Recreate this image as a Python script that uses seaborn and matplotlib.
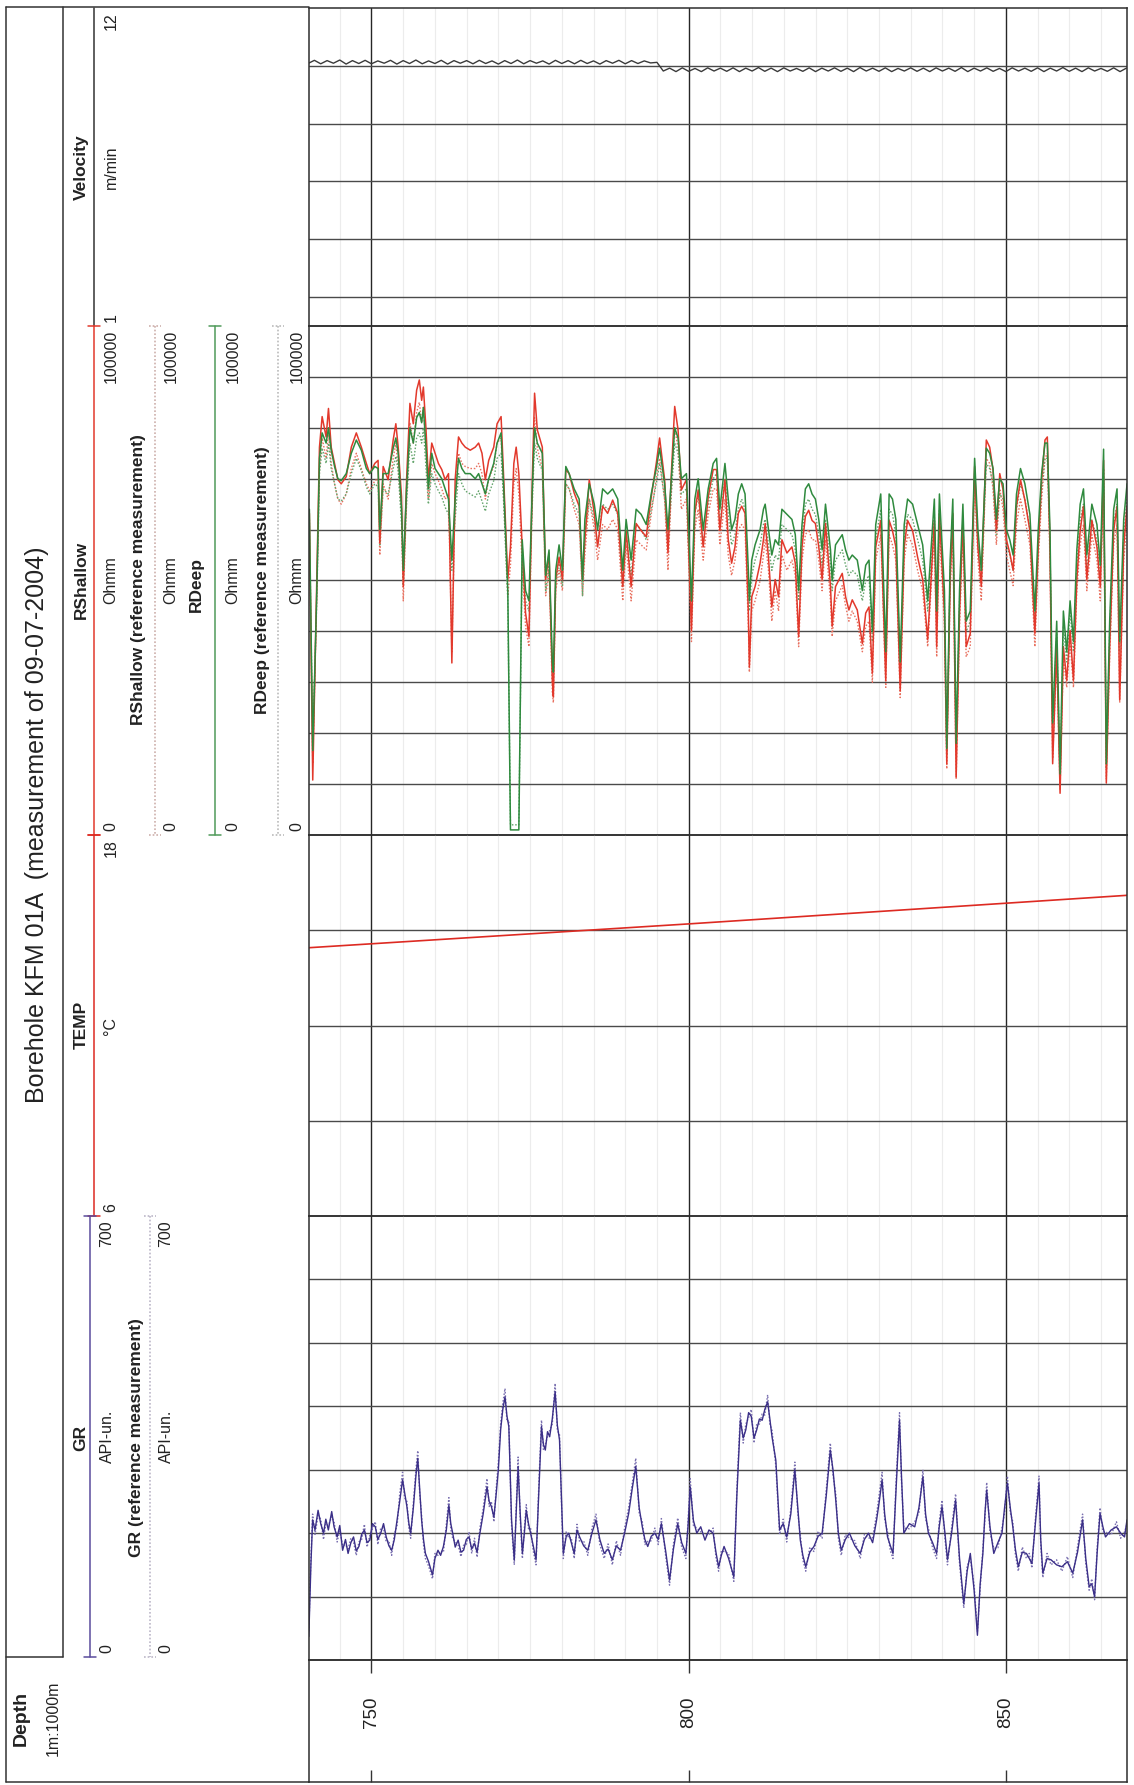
import numpy as np
import pandas as pd
import matplotlib
matplotlib.use("Agg")
import matplotlib.pyplot as plt
from matplotlib.ticker import FixedLocator, NullLocator
import seaborn as sns

# ---------------------------------------------------------------- data
TITLE = "Borehole KFM 01A  (measurement of 09-07-2004)"
DEPTH_LIMITS = (740.15, 869.1)          # m
DEPTH_LABELS = [750, 800, 850]

# Logging velocity (m/min), sampled every metre
vel_depth = np.arange(740, 870)
vel_mmin = [
    10.08, 10.19, 10.07, 10.18, 10.09, 10.20, 10.06, 10.18, 10.08, 10.19,
    10.07, 10.17, 10.09, 10.19, 10.06, 10.18, 10.08, 10.20, 10.07, 10.17,
    10.08, 10.19, 10.06, 10.18, 10.09, 10.18, 10.07, 10.19, 10.08, 10.17,
    10.06, 10.18, 10.08, 10.20, 10.07, 10.18, 10.09, 10.17, 10.06, 10.19,
    10.08, 10.18, 10.07, 10.19, 10.08, 10.17, 10.06, 10.18, 10.09, 10.19,
    10.07, 10.18, 10.08, 10.17, 10.10, 10.12,
    9.82, 9.92, 9.80, 9.93, 9.81, 9.91, 9.80, 9.93, 9.82, 9.92,
    9.81, 9.93, 9.80, 9.92, 9.82, 9.94, 9.81, 9.92, 9.80, 9.93,
    9.82, 9.91, 9.81, 9.93, 9.80, 9.92, 9.82, 9.93, 9.81, 9.92,
    9.80, 9.94, 9.82, 9.92, 9.81, 9.93, 9.80, 9.91, 9.82, 9.93,
    9.81, 9.92, 9.80, 9.93, 9.82, 9.92, 9.81, 9.94, 9.80, 9.92,
    9.82, 9.93, 9.81, 9.91, 9.80, 9.93, 9.82, 9.92, 9.81, 9.93,
    9.80, 9.92, 9.82, 9.94, 9.81, 9.92, 9.80, 9.93, 9.82, 9.91,
    9.81, 9.93, 9.80, 9.92,
]

# Resistivities, stored as log10(Ohmm)
res_depth = [
    740.21, 740.74, 741.38, 741.80, 742.22, 742.85, 743.22, 743.65, 744.18, 744.70,
    745.23, 746.02, 746.82, 747.61, 748.40, 749.19, 749.72, 750.52, 751.04, 751.31,
    751.84, 752.63, 753.42, 753.84, 754.21, 754.74, 755.01, 755.53, 756.06, 756.59,
    757.12, 757.54, 757.91, 758.18, 758.60, 758.97, 759.50, 760.02, 760.55, 761.08,
    761.61, 762.14, 762.67, 763.19, 763.72, 764.25, 764.78, 765.57, 766.36, 766.89,
    767.42, 767.95, 768.48, 769.27, 769.80, 770.43, 770.85, 771.49, 771.91, 772.44,
    772.81, 773.23, 773.76, 774.29, 774.82, 775.35, 775.71, 776.14, 776.93, 777.46,
    777.99, 778.51, 778.67, 779.04, 779.57, 780.10, 780.63, 781.16, 781.95, 782.74,
    783.27, 783.64, 784.33, 785.12, 785.65, 786.44, 787.23, 788.02, 788.82, 789.61,
    790.14, 790.93, 791.72, 792.51, 793.31, 794.10, 794.89, 795.42, 796.21, 796.74,
    797.27, 797.80, 798.33, 798.85, 799.65, 800.44, 800.97, 801.50, 802.29, 803.08,
    803.87, 804.40, 804.92, 805.72, 806.24, 806.77, 807.30, 807.83, 808.36, 808.89,
    809.41, 809.57, 809.94, 810.47, 811.26, 811.79, 812.06, 812.58, 813.11, 813.64,
    814.17, 814.70, 815.49, 816.28, 816.81, 817.34, 817.87, 818.40, 818.92, 819.45,
    819.98, 820.51, 821.04, 821.57, 822.36, 822.62, 823.15, 824.21, 824.74, 825.26,
    825.79, 826.58, 827.38, 827.91, 828.43, 828.96, 829.49, 830.28, 831.07, 831.60,
    832.13, 832.66, 833.35, 833.98, 834.51, 835.30, 836.09, 836.89, 837.68, 838.21,
    838.73, 839.10, 839.53, 840.32, 840.69, 841.22, 841.64, 842.17, 842.70, 843.23,
    843.75, 844.39, 845.08, 845.60, 846.13, 846.92, 847.45, 847.98, 848.51, 849.04,
    849.56, 850.09, 850.62, 851.15, 851.68, 852.31, 853.00, 853.79, 854.58, 855.11,
    855.64, 856.17, 856.54, 856.96, 857.38, 858.02, 858.55, 859.07, 859.60, 860.13,
    860.66, 861.19, 861.72, 862.24, 862.77, 863.56, 864.36, 864.89, 865.41, 865.84,
    866.37, 867.00, 867.53, 867.95, 868.58, 869.11,
]
rshallow_log = [
    3.16, 0.54, 2.51, 3.81, 4.11, 3.91, 4.19, 3.81, 3.65, 3.49,
    3.45, 3.52, 3.81, 3.95, 3.81, 3.65, 3.55, 3.65, 3.68, 2.87,
    3.62, 3.49, 3.88, 4.04, 3.81, 3.32, 2.44, 3.49, 4.24, 4.04,
    4.37, 4.47, 4.27, 4.40, 3.98, 3.49, 3.85, 3.75, 3.65, 3.59,
    3.49, 3.55, 1.69, 3.49, 3.91, 3.85, 3.81, 3.78, 3.81, 3.85,
    3.75, 3.49, 3.68, 3.81, 4.04, 4.11, 3.49, 2.51, 2.83, 3.65,
    3.81, 3.55, 2.83, 2.18, 1.95, 3.49, 4.34, 3.98, 3.81, 2.51,
    2.77, 1.52, 1.36, 2.51, 2.73, 2.51, 3.59, 3.55, 3.36, 3.23,
    2.51, 2.90, 3.49, 3.16, 2.83, 3.23, 3.16, 3.29, 3.16, 2.44,
    2.99, 2.44, 3.06, 2.99, 2.93, 3.32, 3.65, 3.90, 3.49, 2.77,
    3.55, 4.21, 3.98, 3.39, 3.49, 2.01, 3.16, 3.39, 2.83, 3.32,
    3.59, 3.59, 2.99, 3.49, 2.90, 2.67, 2.83, 3.16, 3.23, 3.16,
    2.18, 1.65, 2.34, 2.44, 2.67, 2.90, 3.06, 2.73, 2.24, 2.51,
    2.34, 2.90, 2.77, 2.83, 2.67, 1.95, 2.83, 3.13, 3.19, 3.09,
    3.06, 2.83, 2.51, 3.06, 2.44, 2.05, 2.44, 2.57, 2.34, 2.21,
    2.31, 2.21, 1.88, 2.18, 2.24, 1.59, 2.83, 3.09, 1.52, 3.09,
    2.99, 2.83, 1.42, 2.83, 3.09, 2.99, 2.73, 2.51, 1.92, 2.51,
    3.09, 1.85, 3.16, 2.18, 0.70, 2.51, 3.16, 0.57, 2.18, 3.09,
    1.85, 1.98, 3.62, 2.83, 2.44, 3.88, 3.81, 3.59, 2.99, 3.55,
    3.39, 2.90, 2.77, 2.60, 3.23, 3.49, 3.29, 2.99, 1.98, 2.83,
    3.49, 3.88, 3.91, 2.83, 0.70, 1.85, 0.41, 1.85, 1.52, 2.01,
    1.52, 2.51, 2.99, 3.23, 2.51, 3.09, 2.83, 2.44, 3.68, 0.51,
    1.85, 2.99, 3.23, 1.33, 2.83, 3.23,
]
rshallow_ref_log = [
    3.05, 0.70, 2.35, 3.60, 3.90, 3.70, 3.95, 3.65, 3.45, 3.30,
    3.25, 3.35, 3.60, 3.75, 3.60, 3.45, 3.38, 3.48, 3.50, 2.75,
    3.45, 3.30, 3.70, 3.85, 3.60, 3.15, 2.30, 3.30, 4.05, 3.85,
    4.15, 4.25, 4.05, 4.20, 3.80, 3.30, 3.65, 3.55, 3.48, 3.40,
    3.30, 3.35, 1.80, 3.30, 3.75, 3.65, 3.62, 3.60, 3.60, 3.65,
    3.55, 3.30, 3.50, 3.62, 3.85, 3.90, 3.30, 2.35, 2.65, 3.45,
    3.60, 3.35, 2.65, 2.05, 1.85, 3.30, 4.10, 3.80, 3.60, 2.35,
    2.60, 1.40, 1.30, 2.40, 2.60, 2.40, 3.45, 3.40, 3.20, 3.05,
    2.35, 2.75, 3.30, 3.00, 2.70, 3.05, 3.00, 3.10, 3.00, 2.30,
    2.85, 2.30, 2.90, 2.85, 2.80, 3.15, 3.50, 3.70, 3.30, 2.60,
    3.40, 4.00, 3.80, 3.20, 3.30, 1.90, 3.00, 3.20, 2.70, 3.15,
    3.40, 3.40, 2.85, 3.30, 2.75, 2.55, 2.70, 3.00, 3.05, 3.00,
    2.05, 1.60, 2.20, 2.30, 2.50, 2.75, 2.90, 2.60, 2.10, 2.40,
    2.20, 2.75, 2.60, 2.70, 2.55, 1.85, 2.70, 2.95, 3.00, 2.90,
    2.90, 2.70, 2.40, 2.90, 2.30, 1.95, 2.30, 2.45, 2.25, 2.10,
    2.20, 2.10, 1.80, 2.05, 2.10, 1.50, 2.70, 2.95, 1.45, 2.95,
    2.85, 2.70, 1.35, 2.70, 2.95, 2.85, 2.60, 2.40, 1.85, 2.40,
    2.95, 1.75, 3.00, 2.05, 0.65, 2.40, 3.00, 0.55, 2.05, 2.95,
    1.75, 1.85, 3.45, 2.70, 2.30, 3.70, 3.65, 3.40, 2.85, 3.40,
    3.20, 2.75, 2.60, 2.45, 3.05, 3.30, 3.10, 2.85, 1.85, 2.70,
    3.30, 3.70, 3.75, 2.70, 0.75, 1.75, 0.45, 1.75, 1.45, 1.90,
    1.45, 2.40, 2.85, 3.05, 2.40, 2.95, 2.70, 2.30, 3.50, 0.55,
    1.75, 2.85, 3.05, 1.30, 2.70, 3.05,
]
rdeep_log = [
    3.20, 0.83, 2.40, 3.70, 3.95, 3.85, 4.00, 3.78, 3.62, 3.50,
    3.48, 3.55, 3.75, 3.88, 3.78, 3.60, 3.55, 3.62, 3.60, 3.00,
    3.55, 3.55, 3.80, 3.90, 3.75, 3.20, 2.60, 3.40, 4.00, 3.85,
    4.10, 4.15, 4.05, 4.20, 3.80, 3.40, 3.75, 3.60, 3.55, 3.50,
    3.40, 3.30, 2.70, 3.30, 3.70, 3.60, 3.55, 3.55, 3.50, 3.55,
    3.45, 3.35, 3.50, 3.65, 3.85, 3.95, 3.40, 2.40, 0.05, 0.05,
    0.05, 0.05, 2.90, 2.40, 2.30, 3.40, 4.00, 3.85, 3.75, 2.55,
    2.80, 1.70, 1.60, 2.60, 2.85, 2.60, 3.62, 3.55, 3.40, 3.30,
    2.50, 3.10, 3.45, 3.25, 3.00, 3.40, 3.35, 3.40, 3.30, 2.60,
    3.10, 2.70, 3.20, 3.15, 3.05, 3.35, 3.60, 3.80, 3.45, 3.00,
    3.50, 4.00, 3.90, 3.50, 3.55, 2.30, 3.30, 3.50, 3.00, 3.40,
    3.65, 3.70, 3.20, 3.65, 3.30, 3.00, 3.10, 3.35, 3.45, 3.35,
    2.60, 2.30, 2.70, 2.85, 3.00, 3.20, 3.25, 3.00, 2.75, 2.90,
    2.85, 3.20, 3.15, 3.10, 2.95, 2.40, 3.05, 3.40, 3.45, 3.35,
    3.30, 3.10, 2.80, 3.25, 2.80, 2.50, 2.85, 2.95, 2.80, 2.70,
    2.75, 2.70, 2.40, 2.65, 2.70, 2.00, 3.05, 3.35, 1.80, 3.35,
    3.30, 3.10, 1.70, 3.05, 3.30, 3.25, 3.05, 2.85, 2.30, 2.80,
    3.30, 2.20, 3.35, 2.40, 0.85, 2.70, 3.30, 0.90, 2.40, 3.25,
    2.10, 2.20, 3.70, 3.00, 2.60, 3.80, 3.75, 3.60, 3.10, 3.50,
    3.45, 3.00, 2.90, 2.75, 3.35, 3.60, 3.45, 3.15, 2.20, 3.00,
    3.55, 3.85, 3.85, 3.00, 1.10, 2.10, 0.60, 2.20, 1.80, 2.30,
    1.90, 2.80, 3.25, 3.40, 2.75, 3.25, 3.05, 2.65, 3.79, 0.70,
    2.10, 3.20, 3.40, 1.90, 3.10, 3.45,
]
rdeep_ref_log = [
    3.10, 0.90, 2.30, 3.55, 3.80, 3.65, 3.85, 3.60, 3.45, 3.30,
    3.28, 3.35, 3.55, 3.70, 3.58, 3.42, 3.35, 3.45, 3.42, 2.85,
    3.40, 3.35, 3.60, 3.72, 3.58, 3.05, 2.45, 3.25, 3.85, 3.65,
    3.90, 3.95, 3.85, 4.00, 3.60, 3.25, 3.55, 3.45, 3.38, 3.32,
    3.22, 3.15, 2.60, 3.10, 3.55, 3.45, 3.38, 3.35, 3.32, 3.38,
    3.28, 3.18, 3.35, 3.48, 3.70, 3.75, 3.25, 2.30, 0.10, 0.10,
    0.10, 0.10, 2.75, 2.30, 2.20, 3.25, 3.85, 3.70, 3.58, 2.40,
    2.65, 1.60, 1.50, 2.45, 2.70, 2.45, 3.45, 3.40, 3.25, 3.15,
    2.35, 2.95, 3.30, 3.10, 2.85, 3.25, 3.20, 3.25, 3.15, 2.45,
    2.95, 2.55, 3.05, 3.00, 2.90, 3.20, 3.45, 3.65, 3.30, 2.85,
    3.35, 3.85, 3.75, 3.35, 3.40, 2.15, 3.15, 3.35, 2.85, 3.25,
    3.50, 3.55, 3.05, 3.50, 3.15, 2.85, 2.95, 3.20, 3.30, 3.20,
    2.45, 2.20, 2.55, 2.70, 2.85, 3.05, 3.10, 2.85, 2.60, 2.75,
    2.70, 3.05, 3.00, 2.95, 2.80, 2.30, 2.90, 3.25, 3.30, 3.20,
    3.15, 2.95, 2.65, 3.10, 2.65, 2.40, 2.70, 2.80, 2.65, 2.55,
    2.60, 2.55, 2.30, 2.50, 2.55, 1.90, 2.90, 3.20, 1.70, 3.20,
    3.15, 2.95, 1.60, 2.90, 3.15, 3.10, 2.90, 2.70, 2.20, 2.65,
    3.15, 2.10, 3.20, 2.30, 0.80, 2.60, 3.15, 0.85, 2.30, 3.10,
    2.00, 2.10, 3.55, 2.85, 2.50, 3.65, 3.60, 3.45, 2.95, 3.35,
    3.30, 2.85, 2.75, 2.60, 3.20, 3.45, 3.30, 3.00, 2.10, 2.85,
    3.40, 3.70, 3.70, 2.85, 1.00, 2.00, 0.55, 2.05, 1.70, 2.20,
    1.80, 2.65, 3.10, 3.25, 2.60, 3.10, 2.90, 2.50, 3.60, 0.65,
    2.00, 3.05, 3.25, 1.80, 2.95, 3.30,
]

# Fluid temperature (deg C)
temp_depth = [740.15, 800.0, 869.1]
temp_degc = [14.45, 15.20, 16.10]

# Natural gamma (API units)
gr_depth = [
    740.12, 740.45, 740.72, 741.10, 741.58, 742.00, 742.44, 742.80, 743.20, 743.73,
    744.10, 744.59, 745.00, 745.45, 745.90, 746.31, 746.75, 747.17, 747.60, 748.02,
    748.45, 748.88, 749.30, 749.74, 750.15, 750.60, 751.00, 751.46, 751.90, 752.32,
    752.75, 753.18, 753.60, 754.04, 754.45, 754.90, 755.20, 755.58, 755.90, 756.18,
    756.60, 757.00, 757.30, 757.60, 757.90, 758.20, 758.50, 759.00, 759.62, 760.00,
    760.48, 760.90, 761.34, 761.80, 762.20, 762.50, 762.80, 763.20, 763.66, 764.10,
    764.52, 764.95, 765.38, 765.80, 766.24, 766.65, 767.09, 767.60, 768.21, 768.55,
    768.90, 769.30, 769.67, 770.00, 770.36, 770.70, 771.05, 771.35, 771.65, 772.08,
    772.51, 772.80, 773.11, 773.45, 773.79, 774.10, 774.40, 774.75, 775.08, 775.50,
    775.94, 776.40, 776.80, 777.10, 777.40, 777.75, 778.09, 778.50, 778.95, 779.30,
    779.64, 780.00, 780.24, 780.70, 781.10, 781.50, 781.96, 782.40, 782.81, 783.45,
    784.10, 784.75, 785.39, 786.00, 786.68, 787.30, 787.97, 788.60, 789.26, 789.90,
    790.54, 791.10, 791.66, 792.20, 792.69, 793.10, 793.55, 794.10, 794.67, 795.20,
    795.70, 796.40, 796.99, 797.60, 798.28, 798.90, 799.56, 799.90, 800.25, 800.75,
    801.28, 801.90, 802.57, 803.20, 803.86, 804.30, 804.72, 805.15, 805.58, 806.30,
    807.12, 807.60, 808.15, 808.60, 809.01, 809.45, 809.87, 810.30, 810.73, 811.15,
    811.59, 812.00, 812.45, 812.80, 813.14, 813.74, 814.34, 814.90, 815.46, 816.10,
    816.74, 817.20, 817.60, 818.00, 818.46, 819.10, 819.75, 820.40, 821.04, 821.70,
    822.33, 822.75, 823.19, 823.60, 824.05, 824.70, 825.34, 826.20, 827.05, 827.70,
    828.34, 829.00, 829.63, 830.05, 830.49, 830.90, 831.35, 831.80, 832.21, 832.70,
    833.24, 833.55, 833.92, 834.80, 835.64, 836.30, 836.93, 837.35, 837.79, 838.45,
    839.08, 839.50, 839.94, 840.40, 840.80, 841.45, 842.08, 842.70, 843.37, 843.90,
    844.40, 845.00, 845.52, 845.95, 846.38, 846.70, 846.98, 847.50, 848.10, 848.75,
    849.39, 849.80, 850.25, 850.70, 851.10, 851.50, 851.96, 852.60, 853.25, 853.70,
    854.11, 854.70, 855.23, 855.50, 855.83, 856.50, 857.12, 858.00, 858.84, 859.70,
    860.55, 861.30, 862.10, 862.60, 863.13, 863.55, 863.99, 864.40, 864.85, 865.30,
    865.71, 866.60, 867.43, 868.10, 868.71, 869.10,
]
gr_api = [
    37, 150, 221, 205, 236, 215, 200, 222, 205, 234,
    210, 194, 212, 173, 190, 168, 185, 194, 172, 179,
    198, 205, 185, 189, 215, 210, 190, 200, 215, 194,
    180, 173, 190, 221, 250, 284, 265, 242, 215, 200,
    240, 290, 318, 270, 221, 190, 168, 155, 134, 160,
    173, 165, 179, 205, 244, 215, 200, 178, 189, 170,
    173, 190, 194, 175, 184, 170, 200, 230, 273, 250,
    242, 225, 263, 300, 363, 395, 415, 385, 368, 221,
    158, 230, 305, 230, 168, 200, 236, 215, 200, 180,
    158, 270, 368, 340, 331, 360, 352, 380, 423, 370,
    347, 240, 168, 195, 200, 185, 168, 205, 194, 180,
    173, 200, 221, 190, 168, 175, 158, 180, 173, 200,
    231, 270, 305, 240, 210, 190, 179, 195, 200, 190,
    215, 170, 126, 175, 215, 185, 168, 210, 273, 220,
    200, 210, 189, 205, 200, 170, 147, 165, 179, 160,
    131, 260, 378, 350, 363, 390, 384, 350, 363, 380,
    378, 395, 407, 380, 352, 315, 205, 215, 194, 230,
    300, 240, 189, 165, 147, 170, 179, 195, 200, 260,
    331, 300, 252, 200, 173, 190, 200, 180, 168, 190,
    200, 185, 221, 250, 284, 230, 194, 180, 168, 270,
    378, 290, 200, 215, 210, 240, 289, 230, 200, 185,
    168, 210, 242, 200, 158, 200, 252, 160, 89, 140,
    168, 110, 39, 120, 168, 230, 268, 210, 168, 185,
    200, 240, 279, 240, 210, 175, 147, 170, 168, 160,
    152, 220, 279, 190, 137, 160, 158, 150, 147, 155,
    137, 170, 221, 160, 116, 120, 100, 170, 231, 210,
    194, 205, 210, 200, 194, 221,
]
gr_ref_api = [
    45, 160, 230, 198, 228, 222, 190, 215, 212, 226,
    218, 186, 205, 180, 182, 175, 192, 186, 165, 186,
    190, 214, 178, 196, 207, 218, 182, 208, 208, 186,
    188, 165, 198, 212, 262, 296, 256, 250, 208, 192,
    248, 300, 330, 262, 228, 182, 160, 148, 128, 168,
    165, 172, 170, 214, 256, 206, 192, 186, 181, 163,
    181, 182, 202, 168, 192, 162, 208, 238, 286, 242,
    250, 218, 272, 312, 372, 405, 428, 376, 378, 212,
    150, 238, 320, 222, 160, 208, 245, 207, 208, 172,
    150, 282, 378, 332, 340, 352, 362, 372, 436, 362,
    355, 232, 160, 203, 192, 193, 160, 214, 186, 188,
    165, 208, 230, 182, 160, 183, 150, 188, 165, 208,
    240, 278, 318, 232, 218, 182, 187, 188, 208, 182,
    223, 162, 118, 183, 224, 178, 160, 218, 286, 212,
    208, 202, 197, 198, 208, 162, 140, 172, 171, 168,
    124, 270, 390, 342, 372, 382, 395, 342, 372, 372,
    388, 386, 418, 372, 362, 306, 198, 222, 186, 238,
    312, 232, 197, 158, 140, 178, 171, 203, 192, 270,
    342, 292, 262, 192, 165, 198, 192, 188, 160, 198,
    192, 193, 230, 262, 296, 222, 202, 172, 160, 282,
    390, 282, 208, 207, 218, 232, 300, 222, 208, 177,
    160, 218, 252, 192, 150, 208, 262, 152, 82, 148,
    160, 118, 45, 112, 176, 222, 280, 202, 176, 177,
    208, 232, 290, 232, 218, 167, 140, 178, 160, 168,
    145, 228, 290, 182, 130, 168, 150, 158, 140, 163,
    130, 178, 230, 152, 110, 128, 95, 178, 240, 202,
    202, 197, 218, 192, 202, 214,
]

# ---------------------------------------------------------------- style
sns.set_theme(style="white")
plt.rcParams["font.family"] = ["Liberation Sans", "DejaVu Sans"]
plt.rcParams["axes.unicode_minus"] = False

RED = "#e2392c"
RED_REF = "#e8705f"
GREEN = "#2f8a3e"
GREEN_REF = "#63a46b"
PURPLE = "#3b2f88"
PURPLE_REF = "#7a70b0"
TEMP_RED = "#dd2a22"
INK = "#222222"
GRID = "#4a4a4a"
MINOR = "#ececec"
DOT = (0, (1.1, 1.3))

W, H = 1134, 1785
fig = plt.figure(figsize=(W / 100, H / 100), dpi=100)


def px_axes(x0, y0, x1, y1, **kw):
    """Axes placed by a pixel box measured from the top-left corner."""
    return fig.add_axes([x0 / W, 1 - y1 / H, (x1 - x0) / W, (y1 - y0) / H], **kw)


# header canvas in pixel units (y grows downwards)
bg = px_axes(0, 0, W, H, zorder=0)
bg.set_xlim(0, W)
bg.set_ylim(H, 0)
bg.axis("off")

PL, PR = 309, 1127
VEL_Y, RES_Y, TMP_Y, GR_Y = (8, 326), (326, 835), (835, 1216), (1216, 1660)
DEP_Y = (1660, 1782)

depth_minor = [d for d in range(745, 870, 5) if d not in DEPTH_LABELS]


def track(ybox, ylim, grid_vals, log=False):
    ax = px_axes(PL, ybox[0], PR, ybox[1], zorder=2)
    ax.set_facecolor("none")
    if log:
        ax.set_yscale("log")
    ax.set_xlim(*DEPTH_LIMITS)
    ax.set_ylim(*ylim)
    ax.yaxis.set_major_locator(FixedLocator(grid_vals))
    ax.yaxis.set_minor_locator(NullLocator())
    ax.xaxis.set_major_locator(FixedLocator(DEPTH_LABELS))
    ax.xaxis.set_minor_locator(FixedLocator(depth_minor))
    ax.grid(True, which="major", axis="y", color=GRID, lw=1.0)
    ax.grid(True, which="major", axis="x", color="#262626", lw=1.0)
    ax.grid(True, which="minor", axis="x", color=MINOR, lw=0.8)
    ax.set_axisbelow(True)
    ax.tick_params(which="both", length=0, labelbottom=False, labelleft=False)
    for s in ax.spines.values():
        s.set_color("#2e2e2e")
        s.set_linewidth(1.1)
    return ax


def finish(ax):
    ax.set_xlabel("")
    ax.set_ylabel("")
    ax.set_xlim(*DEPTH_LIMITS)


# --- velocity track
ax_v = track(VEL_Y, (1, 12), [2, 4, 6, 8, 10])
sns.lineplot(x=vel_depth, y=vel_mmin, ax=ax_v, color="#3a3a3a", lw=1.0,
             estimator=None, sort=False)
finish(ax_v)

# --- resistivity track
res_df = pd.DataFrame({
    "depth": res_depth,
    "RShallow": 10 ** np.array(rshallow_log),
    "RShallow_ref": 10 ** np.array(rshallow_ref_log),
    "RDeep": 10 ** np.array(rdeep_log),
    "RDeep_ref": 10 ** np.array(rdeep_ref_log),
})
ax_r = track(RES_Y, (1, 1e5), [10 ** (k / 2) for k in range(1, 10)], log=True)
sns.lineplot(data=res_df, x="depth", y="RShallow_ref", ax=ax_r, color=RED_REF,
             lw=1.0, linestyle=DOT, estimator=None, sort=False)
sns.lineplot(data=res_df, x="depth", y="RDeep_ref", ax=ax_r, color=GREEN_REF,
             lw=1.0, linestyle=DOT, estimator=None, sort=False)
sns.lineplot(data=res_df, x="depth", y="RShallow", ax=ax_r, color=RED,
             lw=1.1, estimator=None, sort=False)
sns.lineplot(data=res_df, x="depth", y="RDeep", ax=ax_r, color=GREEN,
             lw=1.1, estimator=None, sort=False)
finish(ax_r)

# --- temperature track
ax_t = track(TMP_Y, (6, 18), [9, 12, 15])
sns.lineplot(x=temp_depth, y=temp_degc, ax=ax_t, color=TEMP_RED, lw=1.2,
             estimator=None, sort=False)
finish(ax_t)

# --- gamma track
ax_g = track(GR_Y, (0, 700), [100, 200, 300, 400, 500, 600])
sns.lineplot(x=gr_depth, y=gr_ref_api, ax=ax_g, color=PURPLE_REF, lw=1.0,
             linestyle=DOT, estimator=None, sort=False)
sns.lineplot(x=gr_depth, y=gr_api, ax=ax_g, color=PURPLE, lw=1.0,
             estimator=None, sort=False)
finish(ax_g)

# --- depth scale strip
ax_d = px_axes(PL, DEP_Y[0], PR, DEP_Y[1], zorder=2)
ax_d.set_facecolor("none")
ax_d.set_xlim(*DEPTH_LIMITS)
ax_d.set_ylim(0, 1)
ax_d.set_xticks(DEPTH_LABELS)
ax_d.set_yticks([])
ax_d.tick_params(axis="x", direction="in", length=9, width=1.0, color="#333333",
                 top=True, bottom=True, labelbottom=False)
for s in ax_d.spines.values():
    s.set_color("#2e2e2e")
    s.set_linewidth(1.1)
for d in DEPTH_LABELS:
    ax_d.text(d, 0.57, str(d), rotation=90, ha="center", va="center",
              fontsize=13.5, color=INK, transform=ax_d.get_xaxis_transform())

# ---------------------------------------------------------------- header
FRAME = dict(color="#333333", lw=1.1)
bg.plot([6, 6], [7, 1782], **FRAME)
bg.plot([6, PL], [7, 7], **FRAME)
bg.plot([63, 63], [7, 1657], **FRAME)
bg.plot([6, 63], [1657, 1657], **FRAME)
bg.plot([6, PL], [1782, 1782], **FRAME)

bg.text(37, 825, TITLE, rotation=90, ha="center", va="center",
        fontsize=18, color=INK)
bg.text(21, 1718, "Depth", rotation=90, ha="center", va="center",
        fontsize=14, fontweight="bold", color=INK)
bg.text(53, 1718, "1m:1000m", rotation=90, ha="center", va="center",
        fontsize=11.5, color=INK)


def htext(x, y, s, va="center", bold=False, size=11.5):
    bg.text(x, y, s, rotation=90, ha="center", va=va, fontsize=size,
            fontweight="bold" if bold else "normal", color=INK)


def scale_bar(x, y0, y1, color, dotted=False, caps=True):
    ls = DOT if dotted else "-"
    bg.plot([x, x], [y0, y1], color=color, lw=1.1, linestyle=ls)
    if caps:
        for y in (y0, y1):
            bg.plot([x - 6, x + 6], [y, y], color=color, lw=1.1, linestyle=ls)


def scale_labels(x, ybox, lo, hi, unit):
    htext(x, ybox[0] + 4, hi, va="top")
    htext(x, ybox[1] - 4, lo, va="bottom")
    htext(x, (ybox[0] + ybox[1]) / 2, unit)


NAME_X, BAR_X, LAB_X = 81, 94, 111

# Velocity
htext(NAME_X, 167, "Velocity", bold=True, size=12.5)
scale_bar(BAR_X, VEL_Y[0], VEL_Y[1], "#333333", caps=False)
scale_labels(LAB_X, VEL_Y, "1", "12", "m/min")

# RShallow and RDeep with reference measurements
htext(NAME_X, 580, "RShallow", bold=True, size=12.5)
scale_bar(BAR_X, RES_Y[0], RES_Y[1], RED)
scale_labels(LAB_X, RES_Y, "0", "100000", "Ohmm")

htext(139, 580, "RShallow (reference measurement)", bold=True, size=12.5)
scale_bar(155, RES_Y[0], RES_Y[1], "#c9a9a4", dotted=True)
scale_labels(171, RES_Y, "0", "100000", "Ohmm")

htext(196, 584, "RDeep", bold=True, size=12.5)
scale_bar(215, RES_Y[0], RES_Y[1], "#4f9a5a")
scale_labels(233, RES_Y, "0", "100000", "Ohmm")

htext(262, 580, "RDeep (reference measurement)", bold=True, size=12.5)
scale_bar(278, RES_Y[0], RES_Y[1], "#b5b5b5", dotted=True)
scale_labels(297, RES_Y, "0", "100000", "Ohmm")

# TEMP
htext(NAME_X, 1025, "TEMP", bold=True, size=12.5)
scale_bar(BAR_X, TMP_Y[0], TMP_Y[1], TEMP_RED)
scale_labels(LAB_X, TMP_Y, "6", "18", "°C")

# GR with reference measurement
GR_HDR = (GR_Y[0], 1657)
htext(NAME_X, 1438, "GR", bold=True, size=12.5)
scale_bar(BAR_X - 4, GR_HDR[0], GR_HDR[1], "#5a4c9c")
scale_labels(LAB_X - 4, GR_HDR, "0", "700", "API-un.")

htext(137, 1438, "GR (reference measurement)", bold=True, size=12.5)
scale_bar(150, GR_HDR[0], GR_HDR[1], "#b7b1c4", dotted=True)
scale_labels(166, GR_HDR, "0", "700", "API-un.")

fig.savefig("out.png", dpi=100)
